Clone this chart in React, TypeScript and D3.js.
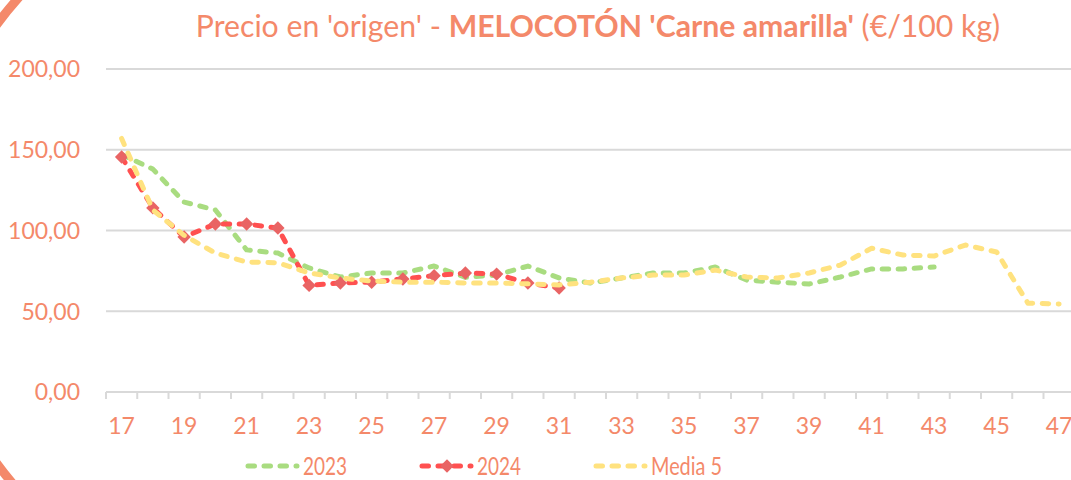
import { useEffect, useRef } from "react";
import * as d3 from "d3";

const weeks = [
  17, 18, 19, 20, 21, 22, 23, 24, 25, 26, 27, 28, 29, 30, 31, 32, 33, 34, 35,
  36, 37, 38, 39, 40, 41, 42, 43, 44, 45, 46, 47,
];
const weekLabels = ["17", "19", "21", "23", "25", "27", "29", "31", "33", "35", "37", "39", "41", "43", "45", "47"];
const yTicks = [0, 50, 100, 150, 200];

// 2023: weeks 17..43
const serie2023 = [
  147, 138, 117.6, 112.7, 88, 86, 76.8, 71.2, 73.7, 73.7, 78, 71, 72.4, 78,
  70.6, 67.5, 70.6, 73.7, 73.7, 77.4, 69.3, 68, 66.9, 71.2, 76.2, 76.2, 77.4,
];
// 2024: weeks 17..31
const serie2024 = [
  145.5, 114, 96, 104, 104, 101.5, 66, 67.5, 68, 70, 72, 73.7, 73, 67.5, 64.4,
];
// Media 5: weeks 17..47
const serieMedia = [
  157, 112.7, 97, 86, 80.5, 80, 73.7, 70.6, 68.7, 68, 68, 67.5, 67.5, 67, 66.3,
  68, 70.6, 72.4, 72.4, 75.5, 71.2, 70.6, 73.7, 78.6, 89, 84.8, 84.2, 91, 86.7,
  55, 54.5,
];

const TEXT = "#F4896A";
const GREEN = "#A9DC80";
const RED = "#FF5050";
const DIAMOND = "#E96464";
const YELLOW = "#FFE27F";
const GRID = "#D9D9D9";
const FONT = "Lato, 'Noto Sans', sans-serif";

const W = 1071;
const H = 480;

function drawChart(svgEl: SVGSVGElement) {
  const svg = d3.select(svgEl);
  svg.selectAll("*").remove();

  const x = d3
    .scaleBand<number>()
    .domain(weeks)
    .range([106, 1074.75])
    .paddingInner(0)
    .paddingOuter(0);
  const y = d3.scaleLinear().domain([0, 200]).range([392, 69]);
  const cx = (w: number) => (x(w) ?? 0) + x.bandwidth() / 2;

  // decorative circle peeking out at the left corners
  const defs = svg.append("defs");
  const clip = defs.append("clipPath").attr("id", "corner-clip");
  clip.append("rect").attr("x", 0).attr("y", 0).attr("width", 50).attr("height", 40);
  clip.append("rect").attr("x", 0).attr("y", 445).attr("width", 40).attr("height", 35);
  svg
    .append("circle")
    .attr("clip-path", "url(#corner-clip)")
    .attr("cx", 296)
    .attr("cy", 244)
    .attr("r", 371)
    .attr("fill", "none")
    .attr("stroke", TEXT)
    .attr("stroke-width", 9);

  // title
  const title = svg
    .append("text")
    .attr("x", 598)
    .attr("y", 37)
    .attr("text-anchor", "middle")
    .attr("font-family", FONT)
    .attr("font-size", 30.2)
    .attr("fill", TEXT);
  title.append("tspan").text("Precio en 'origen' - ");
  title.append("tspan").attr("font-weight", "bold").text("MELOCOTÓN 'Carne amarilla'");
  title.append("tspan").text(" (€/100 kg)");

  // grid
  svg
    .append("g")
    .selectAll("line")
    .data(yTicks.filter((t) => t > 0))
    .join("line")
    .attr("x1", 106)
    .attr("x2", W)
    .attr("y1", (d) => y(d))
    .attr("y2", (d) => y(d))
    .attr("stroke", GRID)
    .attr("stroke-width", 2);

  // x axis line + ticks
  svg
    .append("line")
    .attr("x1", 106)
    .attr("x2", W)
    .attr("y1", y(0))
    .attr("y2", y(0))
    .attr("stroke", GRID)
    .attr("stroke-width", 2);
  svg
    .append("g")
    .selectAll("line")
    .data(weeks)
    .join("line")
    .attr("x1", (d) => x(d) ?? 0)
    .attr("x2", (d) => x(d) ?? 0)
    .attr("y1", y(0))
    .attr("y2", y(0) + 7)
    .attr("stroke", GRID)
    .attr("stroke-width", 2);

  // y labels
  svg
    .append("g")
    .selectAll("text")
    .data(yTicks)
    .join("text")
    .attr("x", 80)
    .attr("y", (d) => y(d))
    .attr("dy", "0.36em")
    .attr("text-anchor", "end")
    .attr("font-family", FONT)
    .attr("font-size", 23)
    .attr("fill", TEXT)
    .text((d) => d3.format(".2f")(d).replace(".", ","));

  // x labels
  svg
    .append("g")
    .selectAll("text")
    .data(weekLabels)
    .join("text")
    .attr("x", (d) => cx(+d))
    .attr("y", 434)
    .attr("text-anchor", "middle")
    .attr("font-family", FONT)
    .attr("font-size", 23)
    .attr("fill", TEXT)
    .text((d) => d);

  const line = d3
    .line<number>()
    .x((_, i) => cx(weeks[i]))
    .y((d) => y(d));

  const dash = "6.5 9.5";
  const sw = 5;

  svg
    .append("path")
    .datum(serie2023)
    .attr("d", line)
    .attr("fill", "none")
    .attr("stroke", GREEN)
    .attr("stroke-width", sw)
    .attr("stroke-linecap", "round")
    .attr("stroke-linejoin", "round")
    .attr("stroke-dasharray", dash);

  svg
    .append("path")
    .datum(serie2024)
    .attr("d", line)
    .attr("fill", "none")
    .attr("stroke", RED)
    .attr("stroke-width", sw)
    .attr("stroke-linecap", "round")
    .attr("stroke-linejoin", "round")
    .attr("stroke-dasharray", dash);

  const diamond = d3.symbol(d3.symbolSquare, 90);
  svg
    .append("g")
    .selectAll("path")
    .data(serie2024)
    .join("path")
    .attr("d", diamond)
    .attr("transform", (d, i) => `translate(${cx(weeks[i])},${y(d)}) rotate(45)`)
    .attr("fill", DIAMOND);

  svg
    .append("path")
    .datum(serieMedia)
    .attr("d", line)
    .attr("fill", "none")
    .attr("stroke", YELLOW)
    .attr("stroke-width", sw)
    .attr("stroke-linecap", "round")
    .attr("stroke-linejoin", "round")
    .attr("stroke-dasharray", dash);

  // legend
  const legendItems = [
    { name: "2023", color: GREEN, x0: 246, marker: false, tw: 44 },
    { name: "2024", color: RED, x0: 420, marker: true, tw: 44 },
    { name: "Media 5", color: YELLOW, x0: 594, marker: false, tw: 71 },
  ];
  const lg = svg.append("g");
  const ly = 466;
  legendItems.forEach((it) => {
    lg.append("line")
      .attr("x1", it.x0 + 2)
      .attr("x2", it.x0 + 51)
      .attr("y1", ly)
      .attr("y2", ly)
      .attr("stroke", it.color)
      .attr("stroke-width", sw)
      .attr("stroke-linecap", "round")
      .attr("stroke-dasharray", dash);
    if (it.marker) {
      lg.append("path")
        .attr("d", diamond)
        .attr("transform", `translate(${it.x0 + 27},${ly}) rotate(45)`)
        .attr("fill", DIAMOND);
    }
    lg.append("text")
      .attr("x", it.x0 + 57)
      .attr("y", ly)
      .attr("dy", "0.36em")
      .attr("font-family", FONT)
      .attr("font-size", 25)
      .attr("fill", TEXT)
      .attr("textLength", it.tw)
      .attr("lengthAdjust", "spacingAndGlyphs")
      .text(it.name);
  });
}

export default function App() {
  const ref = useRef<SVGSVGElement | null>(null);

  useEffect(() => {
    if (ref.current) drawChart(ref.current);
  }, []);

  return (
    <svg
      ref={ref}
      width={W}
      height={H}
      style={{ position: "absolute", left: 0, top: 0, background: "#fff" }}
    />
  );
}
